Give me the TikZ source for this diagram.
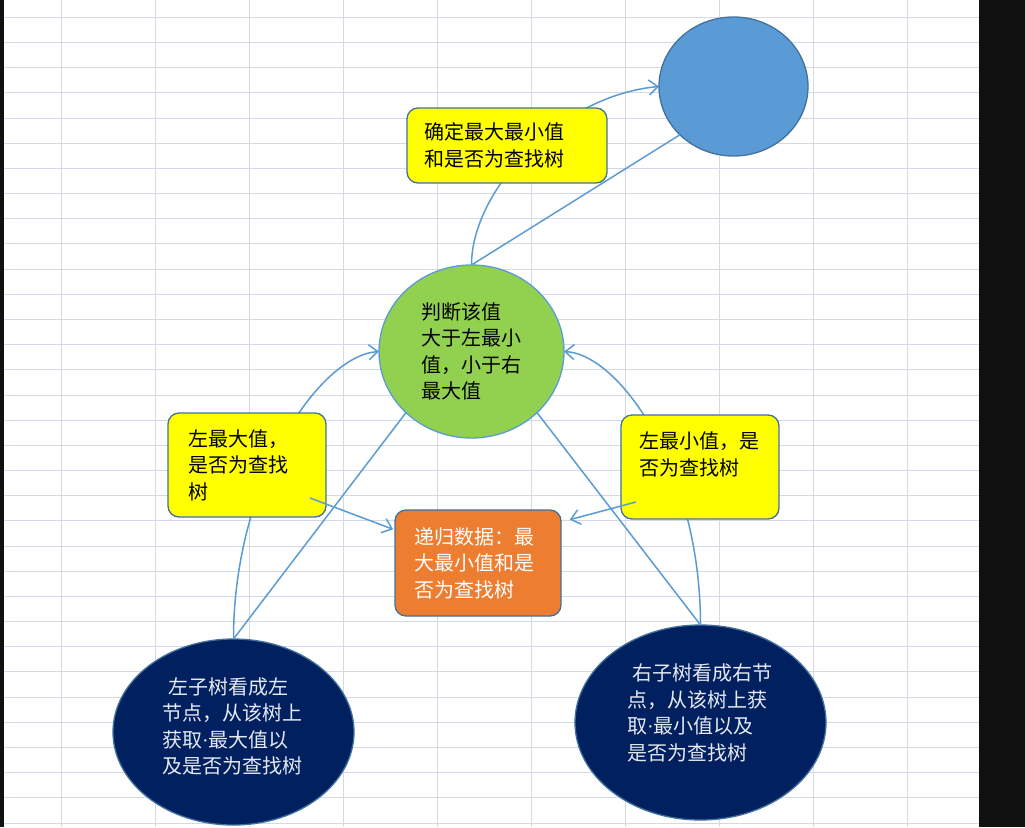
\documentclass[tikz,border=0pt]{standalone}
\usepackage{fontspec}
\newfontfamily\cjk{Noto Sans CJK SC}
\newfontfamily\dotfont{Liberation Serif}
\usetikzlibrary{shapes.geometric,arrows.meta,calc}

\definecolor{gridc}{HTML}{D3D9E6}
\definecolor{framec}{HTML}{111111}
\definecolor{linkc}{HTML}{5B9BD5}
\definecolor{edgec}{HTML}{41719C}
\definecolor{bluefill}{HTML}{5B9BD5}
\definecolor{yellowfill}{HTML}{FFFF00}
\definecolor{greenfill}{HTML}{92D050}
\definecolor{orangefill}{HTML}{ED7D31}
\definecolor{navyfill}{HTML}{002060}
\definecolor{palec}{HTML}{E6E9F0}

% narrow middle dot
\newcommand{\middot}{{\dotfont ·}}

\pgfdeclarelayer{sheet}
\pgfdeclarelayer{links}
\pgfsetlayers{sheet,links,main}

\tikzset{
  cjktext/.style={font=\cjk\fontsize{20}{26.5}\selectfont, align=left},
  box/.style={rectangle, rounded corners=11pt, draw=edgec, line width=1.3pt,
    inner sep=0pt, outer sep=0pt, cjktext},
  oval/.style={ellipse, line width=1.3pt, inner sep=0pt, outer sep=0pt, cjktext},
  gridline/.style={draw=gridc, line width=1pt},
  link/.style={draw=linkc, line width=1.5pt},
  tipped/.style={link, -{Straight Barb[length=9pt,width=15pt]}},
}

\begin{document}
\begin{tikzpicture}[x=1pt,y=-1pt]
\useasboundingbox (0,0) rectangle (1025,827);

% spreadsheet background
\begin{pgfonlayer}{sheet}
  \fill[white] (0,0) rectangle (1025,827);
  \foreach \k in {0,...,9}
    \draw[gridline] ({61+94*\k},0) -- ({61+94*\k},827);
  \foreach \k in {0,...,32}
    \draw[gridline] (4,{17.3+25.18*\k}) -- (979,{17.3+25.18*\k});
  \fill[framec] (0,0) rectangle (4,827);
  \fill[framec] (979,0) rectangle (1025,827);
\end{pgfonlayer}

% shapes
\node[oval, fill=bluefill, draw=edgec, minimum width=149pt, minimum height=139pt]
  (blue) at (733.5,86.5) {};
\node[box, fill=yellowfill, minimum width=200pt, minimum height=75pt, text width=166pt]
  (tyel) at (507,145.5) {确定最大最小值\\和是否为查找树};
\node[oval, fill=greenfill, draw=linkc, minimum width=185pt, minimum height=173pt, text width=100pt]
  (green) at (471.5,351.5) {判断该值\\大于左最小\\值，小于右\\最大值};
\node[box, fill=yellowfill, minimum width=158pt, minimum height=104pt, text width=118pt]
  (lyel) at (247,465) {左最大值，\\是否为查找\\树};
\node[box, fill=yellowfill, minimum width=158pt, minimum height=104pt, text width=122pt]
  (ryel) at (700,467) {左最小值，是\\否为查找树\\\mbox{}};
\node[box, fill=orangefill, text=white, minimum width=166pt, minimum height=106pt, text width=128pt]
  (orange) at (478,563) {递归数据：最\\大最小值和是\\否为查找树};
\node[oval, fill=navyfill, draw=edgec, text=palec, minimum width=241pt, minimum height=186pt, text width=143pt]
  (ltree) at (233.5,732) {\hspace*{6pt}左子树看成左\\节点，从该树上\\获取\middot 最大值以\\及是否为查找树\\[-14pt]\mbox{}};
\node[oval, fill=navyfill, draw=edgec, text=palec, minimum width=251pt, minimum height=195pt, text width=147pt]
  (rtree) at (700.5,722.5) {\hspace*{5pt}右子树看成右节\\点，从该树上获\\取\middot 最小值以及\\是否为查找树\\[-6pt]\mbox{}};

% curved arrows, passing behind the yellow boxes
\begin{pgfonlayer}{links}
  \draw[tipped] (green.north) .. controls +(0,-75) and +(-99,9) .. (blue.west);
  \draw[tipped] (ltree.north) .. controls +(0,-159) and +(-59,4) .. (green.west);
  \draw[tipped] (rtree.north) .. controls +(0,-155) and +(56,3) .. (green.east);
\end{pgfonlayer}

% straight connectors
\draw[link] (green.north) -- (blue.222);
\draw[link] (ltree.north) -- (green.223);
\draw[link] (rtree.north) -- (green.317);

% arrows into the recursion data box
\coordinate (lfrom) at ([shift={(-16,-19)}]lyel.south east);
\coordinate (lto) at ([shift={(0,20)}]orange.north west);
\coordinate (rfrom) at ([shift={(15,-17)}]ryel.south west);
\coordinate (rto) at ([shift={(0,12)}]orange.north east);
\draw[tipped, shorten >=2pt] (lfrom) -- (lto);
\draw[tipped, shorten >=9pt] (rfrom) -- (rto);
\end{tikzpicture}
\end{document}
